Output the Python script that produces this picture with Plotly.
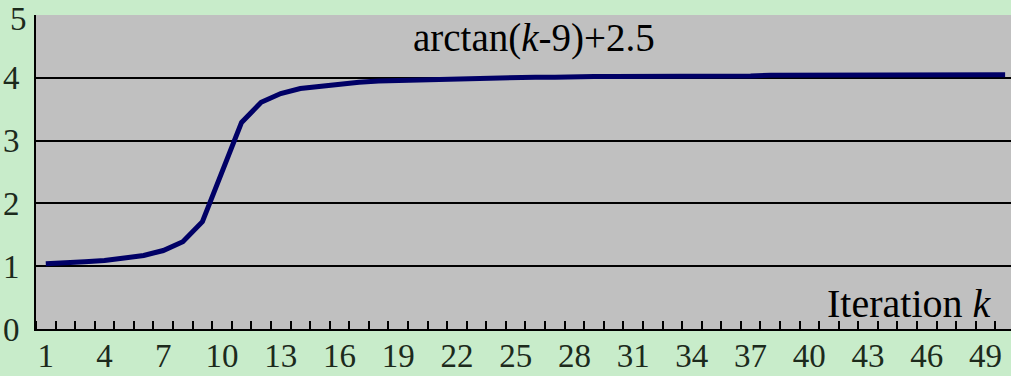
import plotly.graph_objects as go

# Data
iterations = list(range(1, 51))
values = [1.04, 1.05, 1.07, 1.09, 1.13, 1.17, 1.25, 1.39, 1.71, 2.50,
          3.29, 3.61, 3.75, 3.83, 3.87, 3.91, 3.93, 3.95, 3.96, 3.97,
          3.98, 3.99, 3.99, 4.00, 4.00, 4.01, 4.01, 4.02, 4.02, 4.02,
          4.02, 4.03, 4.03, 4.03, 4.03, 4.03, 4.03, 4.04, 4.04, 4.04,
          4.04, 4.04, 4.04, 4.04, 4.04, 4.04, 4.05, 4.05, 4.05, 4.05]
x_tick_labels = list(range(1, 51, 3))
y_tick_labels = [0, 1, 2, 3, 4, 5]

GREEN = "#c8ecca"
GRAY = "#c0c0c0"
TXT = "#1c2a1c"
FONT = "Liberation Serif"

fig = go.Figure()
fig.add_trace(go.Scatter(
    x=iterations, y=values, mode="lines",
    line=dict(color="#000066", width=5),
    hoverinfo="skip", showlegend=False,
))

# top label (5) is drawn as an annotation so that it stays inside the page
y_axis_labels = [str(v) if v != y_tick_labels[-1] else "" for v in y_tick_labels]

fig.update_layout(
    width=1011, height=376,
    margin=dict(l=36, r=0, t=15, b=47),
    paper_bgcolor=GREEN, plot_bgcolor=GRAY,
    showlegend=False,
    xaxis=dict(
        range=[0.5, 50.3],
        automargin=False,
        tickmode="array", tickvals=x_tick_labels,
        ticktext=[str(v) for v in x_tick_labels],
        ticks="", showgrid=False, zeroline=False,
        showline=True, linecolor="black", linewidth=2,
        tickfont=dict(family=FONT, size=33, color=TXT),
        ticklabelstandoff=-4,
        minor=dict(tickmode="linear", tick0=1.5, dtick=1, ticks="inside",
                   ticklen=8, tickwidth=2, tickcolor="black", showgrid=False),
    ),
    yaxis=dict(
        range=[0, 5.0005],
        automargin=False,
        tickmode="array", tickvals=y_tick_labels,
        ticktext=y_axis_labels,
        ticks="", showgrid=True, gridcolor="black", gridwidth=1.5,
        zeroline=False,
        showline=True, linecolor="black", linewidth=2,
        tickfont=dict(family=FONT, size=33, color=TXT),
        ticklabelstandoff=8,
        ticklabeloverflow="allow",
    ),
    annotations=[
        dict(x=-0.008, y=1.0478, xref="paper", yref="paper",
             text=str(y_tick_labels[-1]), showarrow=False, borderpad=0,
             font=dict(family=FONT, size=33, color=TXT),
             xanchor="right", yanchor="top"),
        dict(x=25.93, y=4.63, xref="x", yref="y",
             text="arctan(<i>k</i>-9)+2.5", showarrow=False,
             font=dict(family=FONT, size=39, color="black"),
             xanchor="center", yanchor="middle"),
        dict(x=45.14, y=0.41, xref="x", yref="y",
             text="Iteration <i>k</i>", showarrow=False,
             font=dict(family=FONT, size=40, color="black"),
             xanchor="center", yanchor="middle"),
    ],
)

fig.write_html("out.html")
